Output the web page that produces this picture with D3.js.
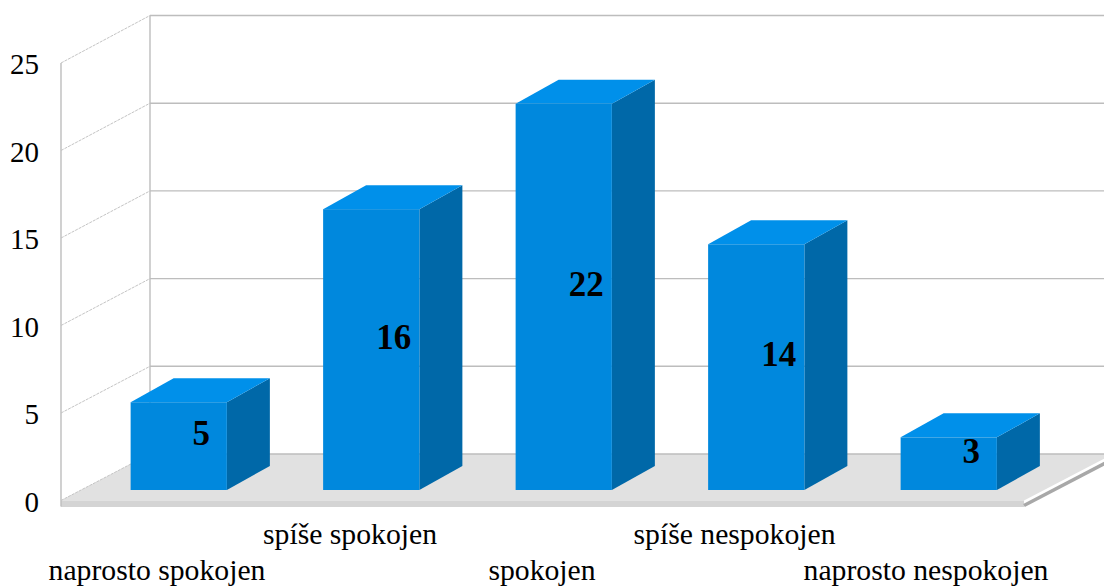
<!DOCTYPE html>
<html><head><meta charset="utf-8">
<style>html,body{margin:0;padding:0;background:#fff;overflow:hidden}svg{display:block}text{font-family:"Liberation Serif",serif;fill:#000}</style>
<script src="https://cdn.jsdelivr.net/npm/d3@7"></script></head><body>
<script>
const categories = ["naprosto spokojen","spíše spokojen","spokojen","spíše nespokojen","naprosto nespokojen"];
const values = [5,16,22,14,3];
const ticks = [0,5,10,15,20,25];
const W=1104,H=586;
const svg=d3.select("body").append("svg").attr("width",W).attr("height",H);
// walls: front plane, back plane, and bar plane scales
const yFront=d3.scaleLinear().domain([0,25]).range([500.5,63]);
const yBack=d3.scaleLinear().domain([0,25]).range([454,15.5]);
const yBar=d3.scaleLinear().domain([0,25]).range([490,51.2]);
const xBand=d3.scaleBand().domain(categories).range([82.5,1045]).paddingInner(0.5).paddingOuter(0.25);
const frontL=61,backL=150,backR=1113,frontR=1024,depth=[43,-24];
const grid="#bdbdbd";
// floor
svg.append("polygon").attr("points",[[frontL,yFront(0)],[backL,yBack(0)],[backR,yBack(0)],[frontR,yFront(0)]].join(" ")).attr("fill","#e1e1e1");
svg.append("rect").attr("x",frontL).attr("y",yFront(0)).attr("width",frontR-frontL).attr("height",6.5).attr("fill","#d4d4d4");
svg.append("line").attr("x1",frontR).attr("y1",yFront(0)+5).attr("x2",backR).attr("y2",yBack(0)+5).attr("stroke","#a8a8a8").attr("stroke-width",3.5);
// walls
svg.append("line").attr("x1",frontL).attr("x2",frontL).attr("y1",yFront(25)).attr("y2",yFront(0)+6).attr("stroke",grid).attr("stroke-width",1.4);
svg.append("line").attr("x1",backL).attr("x2",backL).attr("y1",yBack(25)).attr("y2",yBack(0)).attr("stroke",grid).attr("stroke-width",1.4);
ticks.forEach(t=>{
  svg.append("line").attr("x1",backL).attr("x2",W).attr("y1",yBack(t)).attr("y2",yBack(t)).attr("stroke",grid).attr("stroke-width",1.4);
  svg.append("line").attr("x1",frontL).attr("x2",backL).attr("y1",yFront(t)).attr("y2",yBack(t)).attr("stroke","#c4c4c4").attr("stroke-width",1).attr("stroke-dasharray","3 1");
  svg.append("text").attr("x",39).attr("y",yFront(t)+11).attr("text-anchor","end").attr("font-size",29).text(t);
});
// bars
const g=svg.selectAll("g.bar").data(categories.map((c,i)=>({c,v:values[i]}))).join("g").attr("class","bar");
g.each(function(d){
  const s=d3.select(this),x0=xBand(d.c),x1=x0+xBand.bandwidth(),yt=yBar(d.v),yb=yBar(0),[dx,dy]=depth;
  s.append("polygon").attr("points",[[x1,yt],[x1+dx,yt+dy],[x1+dx,yb+dy],[x1,yb]].join(" ")).attr("fill","#0068a8");
  s.append("polygon").attr("points",[[x0,yt],[x0+dx,yt+dy],[x1+dx,yt+dy],[x1,yt]].join(" ")).attr("fill","#0090ea");
  s.append("rect").attr("x",x0).attr("y",yt).attr("width",x1-x0).attr("height",yb-yt).attr("fill","#0088dd");
  s.append("text").attr("x",(x0+x1)/2+22.5).attr("y",(yt+yb)/2-1).attr("text-anchor","middle").attr("font-size",35).attr("font-weight","bold").text(d.v);
});
// category labels, staggered
const labelX=[157,350,542,734.5,926];
categories.forEach((c,i)=>{
  svg.append("text").attr("x",labelX[i]).attr("y",i%2?544:580).attr("text-anchor","middle").attr("font-size",29.7).text(c);
});
</script></body></html>
